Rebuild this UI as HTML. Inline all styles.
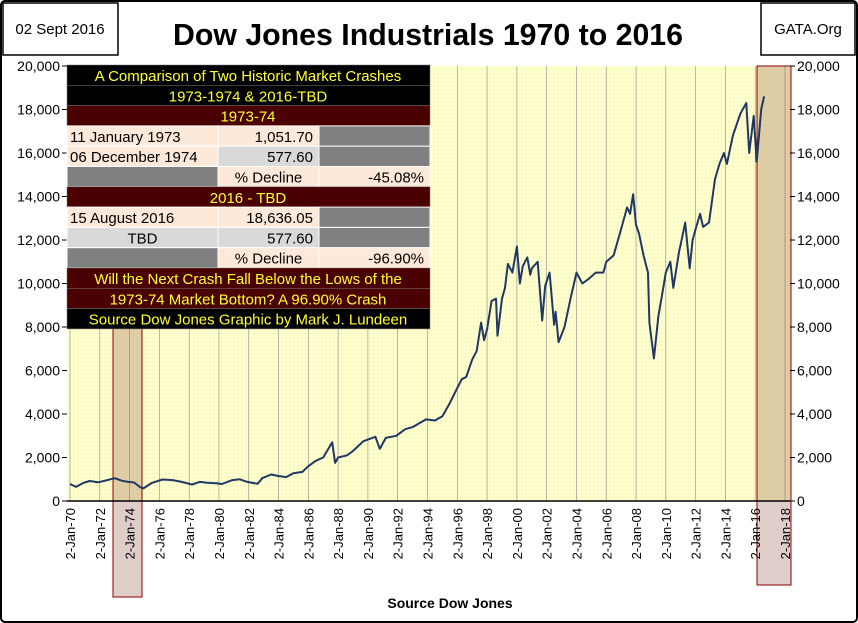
<!DOCTYPE html>
<html><head><meta charset="utf-8"><style>
body{margin:0;background:#fff;}
svg{display:block;font-family:"Liberation Sans",sans-serif;}
</style></head><body>
<svg id="c" width="858" height="623" viewBox="0 0 858 623">
<defs>
<pattern id="dots" width="4" height="4" patternUnits="userSpaceOnUse"><rect width="4" height="4" fill="#ffffcc"/><rect x="1" y="1" width="1" height="1" fill="#e8e4b0"/></pattern>
</defs>
<rect x="1" y="1" width="856" height="621" rx="4" fill="#fff" stroke="#000" stroke-width="2"/>
<rect x="3" y="3" width="115" height="52" fill="#fff" stroke="#000" stroke-width="1.5"/>
<text x="60" y="34" font-size="15" text-anchor="middle">02 Sept 2016</text>
<rect x="761" y="3" width="94" height="52" fill="#fff" stroke="#000" stroke-width="1.5"/>
<text x="808" y="34" font-size="15" text-anchor="middle">GATA.Org</text>
<text x="428" y="45" font-size="31" font-weight="bold" text-anchor="middle" textLength="510" lengthAdjust="spacingAndGlyphs">Dow Jones Industrials 1970 to 2016</text>
<rect x="67" y="66" width="723" height="435" fill="url(#dots)"/>
<g id="grid"></g>
<g id="hl"></g>
<g id="axes"></g>
<path id="line" fill="none" stroke="#1f3864" stroke-width="2" stroke-linejoin="round"/>
<g id="table"></g>
<text x="450" y="608" font-size="14" font-weight="bold" text-anchor="middle">Source Dow Jones</text>
</svg>
<script>
const years=[1970,1970.4,1970.9,1971.3,1971.9,1972.5,1973.0,1973.5,1973.9,1974.3,1974.7,1974.93,1975.5,1976.2,1976.9,1977.5,1978.2,1978.7,1979.2,1979.8,1980.2,1980.9,1981.4,1981.9,1982.6,1982.9,1983.5,1984.0,1984.5,1985.0,1985.6,1986.0,1986.5,1987.0,1987.6,1987.8,1988.0,1988.6,1989.0,1989.7,1990.5,1990.8,1991.2,1991.9,1992.5,1993.0,1993.9,1994.5,1995.0,1995.5,1996.0,1996.3,1996.6,1997.0,1997.3,1997.6,1997.8,1998.0,1998.3,1998.6,1998.7,1999.0,1999.2,1999.4,1999.7,1999.9,2000.0,2000.2,2000.4,2000.7,2000.9,2001.0,2001.4,2001.7,2001.9,2002.2,2002.5,2002.6,2002.8,2003.2,2003.6,2004.0,2004.4,2004.8,2005.3,2005.8,2006.0,2006.5,2007.0,2007.4,2007.6,2007.8,2008.0,2008.2,2008.5,2008.8,2008.9,2009.2,2009.5,2009.8,2010.0,2010.3,2010.5,2010.9,2011.0,2011.3,2011.6,2011.8,2012.0,2012.3,2012.5,2012.9,2013.3,2013.6,2013.9,2014.1,2014.5,2015.0,2015.4,2015.6,2015.9,2016.1,2016.4,2016.6];
const values=[780,650,830,920,860,960,1050,930,880,850,640,580,830,990,960,880,760,880,840,820,780,960,1000,880,790,1050,1220,1150,1100,1280,1340,1600,1850,2000,2700,1750,2000,2100,2300,2750,2950,2400,2900,3000,3300,3400,3750,3700,3900,4500,5200,5600,5700,6500,6900,8200,7400,7900,9200,9300,7600,9300,9800,10900,10500,11300,11700,10000,10800,11200,10400,10700,11000,8300,9900,10500,8100,8700,7300,8000,9300,10500,10000,10200,10500,10500,11000,11300,12500,13500,13200,14100,12700,12300,11300,10500,8200,6550,8500,9700,10500,11000,9800,11500,11800,12800,10700,12000,12500,13200,12600,12800,14800,15500,16000,15500,16800,17800,18300,16000,17700,15600,18000,18600];
const yTicks=[0,2000,4000,6000,8000,10000,12000,14000,16000,18000,20000];
const xTicks=[1970,1972,1974,1976,1978,1980,1982,1984,1986,1988,1990,1992,1994,1996,1998,2000,2002,2004,2006,2008,2010,2012,2014,2016,2018];
const tableRows=[
["black","A Comparison of Two Historic Market Crashes"],
["black","1973-1974 & 2016-TBD"],
["maroon","1973-74"],
["cells",["11 January 1973","1,051.70",""]],
["cells2",["06 December 1974","577.60",""]],
["cells3",["","% Decline","-45.08%"]],
["maroon","2016 - TBD"],
["cells",["15 August 2016","18,636.05",""]],
["cells2c",["TBD","577.60",""]],
["cells3",["","% Decline","-96.90%"]],
["maroon","Will the Next Crash Fall Below the Lows of the"],
["maroon","1973-74 Market Bottom? A 96.90% Crash"],
["black","Source Dow Jones  Graphic by Mark J. Lundeen"]];
const NS="http://www.w3.org/2000/svg";
const X0=70,X1=785,Y0=501,Y1=66;
const xs=y=>X0+(y-1970)/(2018-1970)*(X1-X0);
const ys=v=>Y0-v/20000*(Y0-Y1);
function mk(t,a,p){const e=document.createElementNS(NS,t);for(const k in a)e.setAttribute(k,a[k]);p.appendChild(e);return e;}
const grid=document.getElementById('grid'),axes=document.getElementById('axes'),hl=document.getElementById('hl');
xTicks.forEach(t=>{
 const l=mk('line',{x1:xs(t),x2:xs(t),y1:Y1,y2:Y0,stroke:'#888','stroke-width':0.6},grid);
 
 
 const x=xs(t)+5,y=508;
 const tx=mk('text',{x:x,y:y,'font-size':13,'text-anchor':'end',transform:`rotate(-90 ${x} ${y})`},axes);
 tx.textContent='2-Jan-'+String(t).slice(2);
 
 
});
yTicks.forEach(v=>{
 const a=mk('text',{x:60,y:ys(v)+5,'font-size':14,'text-anchor':'end'},axes);
 a.textContent=v.toLocaleString('en-US');
 
 
 const b=mk('text',{x:797,y:ys(v)+5,'font-size':14},axes);
 b.textContent=v.toLocaleString('en-US');
 
 
 mk('line',{x1:62,x2:67,y1:ys(v),y2:ys(v),stroke:'#000'},axes);
 mk('line',{x1:790,x2:795,y1:ys(v),y2:ys(v),stroke:'#000'},axes);
});
mk('line',{x1:67,x2:790,y1:Y0,y2:Y0,stroke:'#000','stroke-width':1.5},axes);
const h1=mk('rect',{x:113,y:Y1,width:29,height:597-Y1,fill:'rgba(150,90,80,0.3)',stroke:'#8b0000','stroke-width':1},hl);


const h2=mk('rect',{x:757,y:Y1,width:34,height:585-Y1,fill:'rgba(150,90,80,0.3)',stroke:'#8b0000','stroke-width':1},hl);


let d='';years.forEach((y,i)=>{d+=(i?'L':'M')+xs(y).toFixed(1)+','+ys(values[i]).toFixed(1);});
document.getElementById('line').setAttribute('d',d);
const tb=document.getElementById('table');
const TX=67,cw=[151,101,111],rh=20.3;let ty=65;
tableRows.forEach(r=>{
 const [kind,c]=r;
 if(kind==='black'||kind==='maroon'){
  const bg=mk('rect',{x:TX,y:ty,width:363,height:rh,fill:kind==='black'?'#000':'#4a0000',stroke:'#777','stroke-width':0.5},tb);
  
  
  const t=mk('text',{x:TX+181,y:ty+16,'font-size':15,fill:'#ffff33','text-anchor':'middle'},tb);t.textContent=c;
  
  
 } else {
  let x=TX;
  c.forEach((s,i)=>{
   let fill='#fde9d9';
   if(kind==='cells'&&i===2)fill='#808080';
   if((kind==='cells2'||kind==='cells2c')&&i===1)fill='#d9d9d9';
   if((kind==='cells2'||kind==='cells2c')&&i===2)fill='#808080';
   if(kind==='cells2c'&&i===0)fill='#d9d9d9';
   if(kind==='cells3'&&i===0)fill='#808080';
   const bg=mk('rect',{x:x,y:ty,width:cw[i],height:rh,fill:fill,stroke:'#fff','stroke-width':1},tb);
   
   
   if(s){
    let anc='start',tx=x+3;
    if(i===0&&kind==='cells2c'){anc='middle';tx=x+cw[i]/2;}
    else if(i===1&&kind==='cells3'){anc='middle';tx=x+cw[i]/2;}
    else if(i>0){anc='end';tx=x+cw[i]-6;}
    const t=mk('text',{x:tx,y:ty+16,'font-size':15,fill:'#000','text-anchor':anc},tb);t.textContent=s;
    
    
   }
   x+=cw[i];
  });
 }
 ty+=rh;
});
</script>
</body></html>
